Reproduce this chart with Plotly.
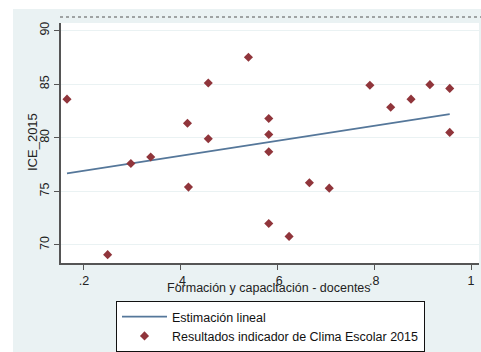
import plotly.graph_objects as go

# Data
formacion = [0.165, 0.249, 0.297, 0.338, 0.414, 0.416, 0.457, 0.457, 0.540,
             0.582, 0.582, 0.582, 0.582, 0.624, 0.666, 0.707, 0.791, 0.834,
             0.876, 0.915, 0.956, 0.956]
ice_2015 = [83.6, 69.1, 77.6, 78.2, 81.35, 75.4, 85.1, 79.9, 87.5,
            81.8, 80.3, 78.7, 72.0, 70.8, 75.8, 75.3, 84.9, 82.85,
            83.6, 84.95, 84.6, 80.5]

fit_x = [0.165, 0.956]
fit_y = [76.68, 82.2]

x_tickvals = [0.2, 0.4, 0.6, 0.8, 1.0]
x_ticktext = [".2", ".4", ".6", ".8", "1"]
y_tickvals = [70, 75, 80, 85, 90]
y_ticktext = ["70", "75", "80", "85", "90"]

W, H = 481, 352
L, R, T, B = 61, 2, 23, 89
PW, PH = W - L - R, H - T - B


def px(xp):
    return (xp - L) / PW


def py(yp):
    return (H - B - yp) / PH


FONT = "Liberation Sans, Arial, sans-serif"
FS = 12.5
BG = "#eaf2f3"

fig = go.Figure()
fig.add_trace(go.Scatter(
    x=fit_x, y=fit_y, mode="lines", name="Estimación lineal",
    line=dict(color="#55779a", width=1.6),
))
fig.add_trace(go.Scatter(
    x=formacion, y=ice_2015, mode="markers",
    name="Resultados indicador de Clima Escolar 2015",
    marker=dict(symbol="diamond", size=7, color="#90353b"),
))

fig.update_layout(
    width=W, height=H,
    margin=dict(l=L, r=R, t=T, b=B, autoexpand=False),
    paper_bgcolor=BG, plot_bgcolor="white",
    font=dict(family=FONT, size=FS, color="#222"),
    showlegend=True,
    legend=dict(
        x=px(116), y=py(301), xanchor="left", yanchor="top",
        bgcolor="white", bordercolor="#111", borderwidth=1,
        font=dict(family=FONT, size=FS, color="#111"),
        itemwidth=45, tracegroupgap=0,
    ),
    xaxis=dict(
        range=[0.1526, 1.0165], tickvals=x_tickvals, ticktext=x_ticktext,
        showgrid=False, zeroline=False, showline=True, linecolor="#555",
        linewidth=1.5, ticks="outside", ticklen=5, tickcolor="#555",
        tickfont=dict(size=FS, color="#222"),
    ),
    yaxis=dict(
        range=[68.32, 90.70], tickvals=y_tickvals, ticktext=y_ticktext,
        tickangle=-90,
        showgrid=True, gridcolor=BG, gridwidth=1,
        zeroline=False, showline=True, linecolor="#555",
        linewidth=1.5, ticks="outside", ticklen=5, tickcolor="#555",
        tickfont=dict(size=FS, color="#222"),
    ),
    annotations=[
        dict(text="Formación y capacitación - docentes", xref="paper",
             yref="paper", x=px(268.5), y=py(288), xanchor="center",
             yanchor="middle", showarrow=False,
             font=dict(family=FONT, size=FS, color="#222")),
        dict(text="ICE_2015", xref="paper", yref="paper", x=px(32),
             y=py(142), xanchor="center", yanchor="middle", textangle=-90,
             showarrow=False, font=dict(family=FONT, size=13, color="#222")),
    ],
    shapes=[
        dict(type="rect", xref="paper", yref="paper", x0=-0.3, x1=px(13),
             y0=-0.6, y1=1.3, fillcolor="white", line=dict(width=0),
             layer="above"),
        dict(type="rect", xref="paper", yref="paper", x0=-0.3, x1=1.2,
             y0=py(9), y1=1.3, fillcolor="white", line=dict(width=0),
             layer="above"),
        dict(type="line", xref="paper", yref="paper", x0=px(60), x1=1.1,
             y0=py(17), y1=py(17), line=dict(color="#555", width=1,
                                                dash="dot")),
    ],
)

fig.write_html("out.html")
